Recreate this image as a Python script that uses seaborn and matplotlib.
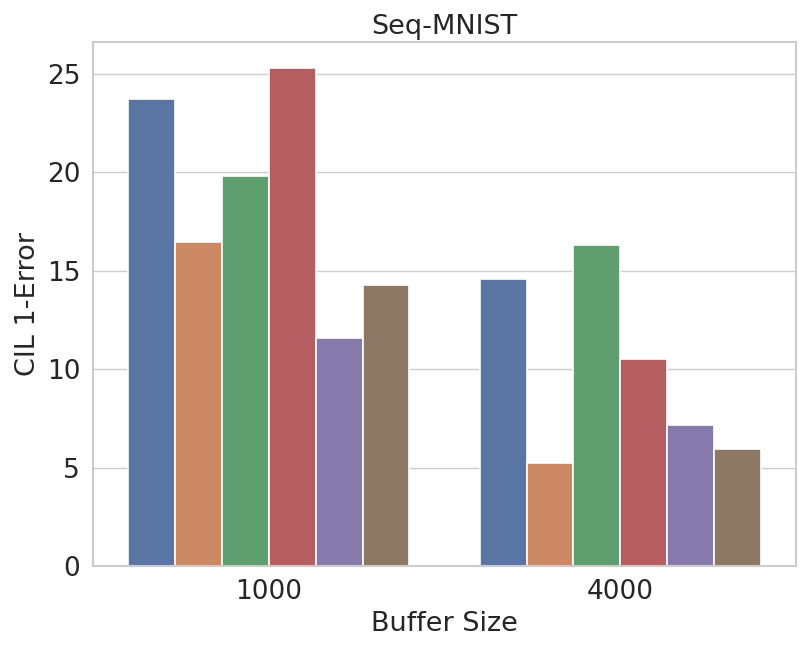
import pandas as pd
import matplotlib
matplotlib.use("Agg")
import matplotlib.pyplot as plt
import seaborn as sns

# --- Data ---
buffer_sizes = ["1000", "1000", "1000", "1000", "1000", "1000",
                "4000", "4000", "4000", "4000", "4000", "4000"]
methods = ["M1", "M2", "M3", "M4", "M5", "M6"] * 2
errors = [23.75, 16.45, 19.8, 25.3, 11.6, 14.3,
          14.6, 5.25, 16.3, 10.5, 7.15, 5.95]

df = pd.DataFrame({"Buffer Size": buffer_sizes, "Method": methods, "CIL 1-Error": errors})

sns.set_theme(style="whitegrid", palette="deep")

fig, ax = plt.subplots(figsize=(8.08, 6.53), dpi=100)
sns.barplot(data=df, x="Buffer Size", y="CIL 1-Error", hue="Method",
            edgecolor="white", linewidth=1.2, legend=False, ax=ax)

ax.set_title("Seq-MNIST", fontsize=19.5)
ax.set_xlabel("Buffer Size", fontsize=19.5)
ax.set_ylabel("CIL 1-Error", fontsize=19.5)
ax.tick_params(axis="both", labelsize=19)
ax.set_yticks([0, 5, 10, 15, 20, 25])
ax.set_ylim(0, 26.6)
ax.set_xlim(-0.5, 1.5)
for s in ax.spines.values():
    s.set_color("#cccccc")
    s.set_linewidth(1.5)
ax.grid(axis="x", visible=False)

plt.subplots_adjust(left=0.1155, right=0.985, top=0.935, bottom=0.133)
plt.savefig("out.png", dpi=100)
plt.close()
